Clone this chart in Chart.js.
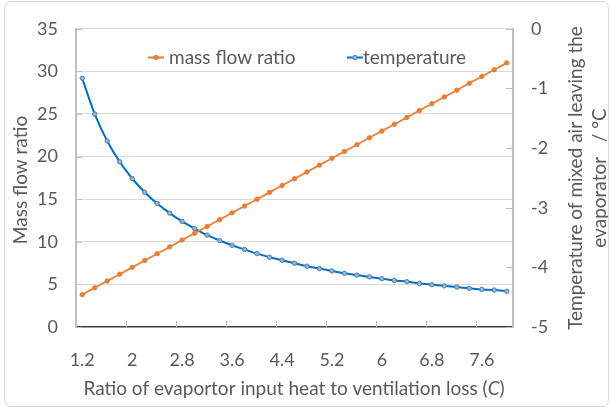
<!DOCTYPE html>
<html>
<head>
<meta charset="utf-8">
<script src="https://cdn.jsdelivr.net/npm/chart.js@4.4.0/dist/chart.umd.min.js"></script>
<style>
  html, body { margin: 0; padding: 0; background: #fff; }
  #wrap { position: relative; width: 612px; height: 409px; }
  #frame { position: absolute; left: 4px; top: 1px; width: 603px; height: 404px;
           border: 1px solid #d9d9d9; border-radius: 7px; pointer-events: none; }
  canvas { position: absolute; left: 0; top: 0; }
</style>
</head>
<body>
<div id="wrap">
  <canvas id="chart" width="612" height="409"></canvas>
  <div id="frame"></div>
</div>
<script>
const ratioC = [1.2, 1.4, 1.6, 1.8, 2.0, 2.2, 2.4, 2.6, 2.8, 3.0, 3.2, 3.4, 3.6, 3.8, 4.0, 4.2, 4.4, 4.6,
    4.8, 5.0, 5.2, 5.4, 5.6, 5.8, 6.0, 6.2, 6.4, 6.6, 6.8, 7.0, 7.2, 7.4, 7.6, 7.8, 8.0];
const massFlow = [3.8, 4.6, 5.4, 6.2, 7.0, 7.8, 8.6, 9.4, 10.2, 11.0, 11.8, 12.6, 13.4, 14.2, 15.0, 15.8,
    16.6, 17.4, 18.2, 19.0, 19.8, 20.6, 21.4, 22.2, 23.0, 23.8, 24.6, 25.4, 26.2, 27.0, 27.8, 28.6,
    29.4, 30.2, 31.0];
const temperature = [-0.83, -1.43, -1.88, -2.23, -2.51, -2.74, -2.93, -3.09, -3.23, -3.35, -3.46, -3.55,
    -3.63, -3.70, -3.77, -3.83, -3.88, -3.93, -3.98, -4.02, -4.06, -4.10, -4.13, -4.16, -4.19, -4.22,
    -4.24, -4.27, -4.29, -4.31, -4.33, -4.35, -4.37, -4.38, -4.40];
const xTickLabels = ['1.2', '2', '2.8', '3.6', '4.4', '5.2', '6', '6.8', '7.6'];
const seriesNames = ['mass flow ratio', 'temperature'];

const FONT = 'Lato';
const TEXT = '#595959';
const ORANGE = '#ed7d31';
const BLUE = '#0070c0';

// axis titles, legend and the small inner tick marks are drawn by hand
const decorations = {
    id: 'decorations',
    afterDraw(chart) {
        const ctx = chart.ctx;
        const area = chart.chartArea;
        const x = chart.scales.x, y = chart.scales.y, y1 = chart.scales.y1;
        ctx.save();

        // inner tick marks
        ctx.strokeStyle = '#bfbfbf';
        ctx.lineWidth = 1;
        const half = (x.getPixelForValue(1) - x.getPixelForValue(0)) / 2;
        ratioC.forEach((c, i) => {
            if (i > 0 && xTickLabels.includes(String(c))) {
                const px = Math.round(x.getPixelForValue(i) - half) + 0.5;
                ctx.beginPath();
                ctx.moveTo(px, area.bottom);
                ctx.lineTo(px, area.bottom - 6);
                ctx.stroke();
            }
        });
        y.ticks.forEach(t => {
            const py = Math.round(y.getPixelForValue(t.value)) + 0.5;
            ctx.beginPath();
            ctx.moveTo(area.left, py);
            ctx.lineTo(area.left + 6, py);
            ctx.stroke();
        });
        y1.ticks.forEach(t => {
            const py = Math.round(y1.getPixelForValue(t.value)) + 0.5;
            ctx.beginPath();
            ctx.moveTo(area.right, py);
            ctx.lineTo(area.right - 7, py);
            ctx.stroke();
        });

        // axis titles
        ctx.fillStyle = TEXT;
        ctx.textAlign = 'center';
        ctx.textBaseline = 'middle';
        ctx.font = '19px ' + FONT;
        ctx.save();
        ctx.translate(21, 180);
        ctx.rotate(-Math.PI / 2);
        ctx.fillText('Mass flow ratio', 0, 0);
        ctx.restore();

        ctx.save();
        ctx.translate(576, 178);
        ctx.rotate(-Math.PI / 2);
        ctx.fillText('Temperature of mixed air leaving the', 0, 0);
        ctx.fillText('evaporator   / \u00b0C', 0, 24);
        ctx.restore();

        const t1 = 'Ratio of evaportor input heat to ventilation loss (';
        const t2 = 'C';
        const t3 = ')';
        ctx.font = '19px ' + FONT;
        const w1 = ctx.measureText(t1).width, w3 = ctx.measureText(t3).width;
        ctx.font = 'italic 19px ' + FONT;
        const w2 = ctx.measureText(t2).width;
        let tx = 294 - (w1 + w2 + w3) / 2;
        ctx.textAlign = 'left';
        ctx.font = '19px ' + FONT;
        ctx.fillText(t1, tx, 389);
        ctx.font = 'italic 19px ' + FONT;
        ctx.fillText(t2, tx + w1, 389);
        ctx.font = '19px ' + FONT;
        ctx.fillText(t3, tx + w1 + w2, 389);

        // legend inside the plot
        const legendX = [148, 347];
        chart.data.datasets.forEach((ds, i) => {
            const lx = legendX[i], ly = 57.5;
            ctx.strokeStyle = ds.borderColor;
            ctx.lineWidth = 2;
            ctx.beginPath();
            ctx.moveTo(lx, ly);
            ctx.lineTo(lx + 16, ly);
            ctx.stroke();
            ctx.fillStyle = ds.pointBackgroundColor;
            ctx.strokeStyle = ds.pointBorderColor;
            ctx.lineWidth = 1;
            ctx.beginPath();
            ctx.arc(lx + 8, ly, 2.2, 0, Math.PI * 2);
            ctx.fill();
            ctx.stroke();
            ctx.fillStyle = TEXT;
            ctx.font = '19px ' + FONT;
            ctx.textBaseline = 'alphabetic';
            ctx.fillText(ds.label, lx + (i === 0 ? 21 : 16), 64);
        });
        ctx.restore();
    }
};

new Chart(document.getElementById('chart'), {
    type: 'line',
    data: {
        labels: ratioC.map(String),
        datasets: [{
            label: seriesNames[0],
            data: massFlow,
            yAxisID: 'y',
            borderColor: ORANGE,
            borderWidth: 1.75,
            pointRadius: 2.2,
            pointBackgroundColor: ORANGE,
            pointBorderColor: ORANGE,
            pointBorderWidth: 1,
            tension: 0
        }, {
            label: seriesNames[1],
            data: temperature,
            yAxisID: 'y1',
            borderColor: BLUE,
            borderWidth: 2,
            pointRadius: 2.2,
            pointBackgroundColor: '#9cb3cc',
            pointBorderColor: '#4a7fb5',
            pointBorderWidth: 1,
            cubicInterpolationMode: 'monotone'
        }]
    },
    options: {
        responsive: false,
        animation: false,
        layout: { padding: { left: 0, right: 0, top: 27, bottom: 0 } },
        plugins: { legend: { display: false }, tooltip: { enabled: false } },
        scales: {
            x: {
                type: 'category',
                offset: true,
                grid: { display: false },
                border: { display: true, color: '#404040', width: 1.5 },
                ticks: {
                    autoSkip: false,
                    maxRotation: 0,
                    padding: 14,
                    color: TEXT,
                    font: { family: FONT, size: 18 },
                    callback: (v, i) => xTickLabels.includes(String(ratioC[i])) ? String(ratioC[i]) : null
                },
                afterFit: s => { s.height = 82; }
            },
            y: {
                position: 'left',
                min: 0,
                max: 35,
                ticks: { stepSize: 5, padding: 18, color: TEXT, font: { family: FONT, size: 18 } },
                grid: {
                    drawTicks: false,
                    color: c => c.tick.value === 0 ? 'rgba(0,0,0,0)' : '#d9d9d9'
                },
                border: { display: true, color: '#bfbfbf', width: 2 },
                afterFit: s => { s.width = 76; }
            },
            y1: {
                position: 'right',
                min: -5,
                max: 0,
                ticks: { stepSize: 1, padding: 18, color: TEXT, font: { family: FONT, size: 18 } },
                grid: { drawOnChartArea: false, drawTicks: false },
                border: { display: true, color: '#bfbfbf', width: 2 },
                afterFit: s => { s.width = 99; }
            }
        }
    },
    plugins: [decorations]
});
</script>
</body>
</html>
